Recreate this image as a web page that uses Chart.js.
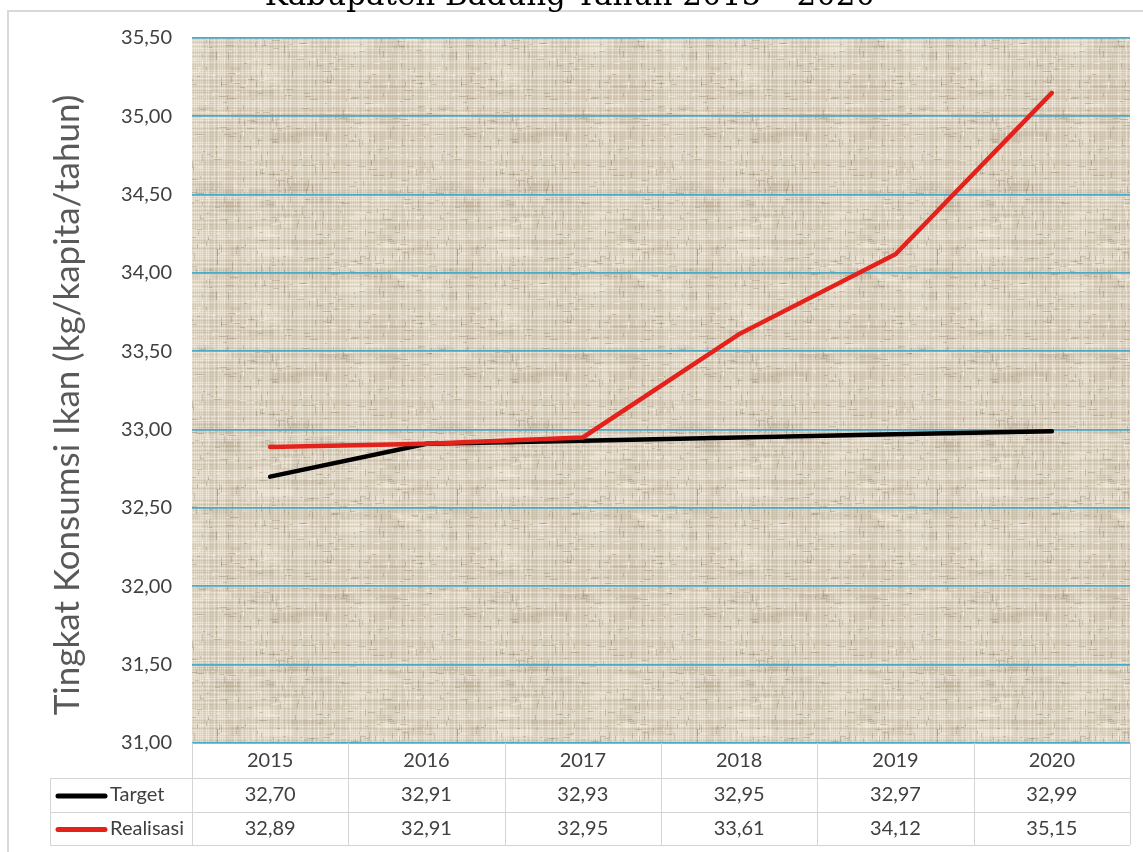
<!DOCTYPE html>
<html>
<head>
<meta charset="utf-8">
<script src="https://cdn.jsdelivr.net/npm/chart.js@4"></script>
<style>
  html, body { margin: 0; padding: 0; background: #ffffff; }
  #wrap { position: relative; width: 1143px; height: 852px; }
  canvas { display: block; }
</style>
</head>
<body>
<div id="wrap"><canvas id="c" width="1143" height="852"></canvas></div>
<script>
// Fish consumption level, Badung regency
const years = ['2015', '2016', '2017', '2018', '2019', '2020'];
const target = [32.70, 32.91, 32.93, 32.95, 32.97, 32.99];
const realisasi = [32.89, 32.91, 32.95, 33.61, 34.12, 35.15];
const seriesNames = ['Target', 'Realisasi'];
const yMin = 31.0;
const yMax = 35.5;
const yStep = 0.5;
const chartTitle = 'Kabupaten Badung Tahun 2015 – 2020';
const yTitle = 'Tingkat Konsumsi Ikan (kg/kapita/tahun)';

const FONT = 'Lato, "Open Sans", sans-serif';
const TEXT = '#404040';
const fmt = v => v.toFixed(2).replace('.', ',');

// Burlap-like tile for the plot background (deterministic hash, no data)
function hash(n) { const s = Math.sin(n * 12.9898 + 78.233) * 43758.5453; return s - Math.floor(s); }
function makeTexture() {
  const t = document.createElement('canvas');
  t.width = 240; t.height = 240;
  const g = t.getContext('2d');
  g.fillStyle = '#d9cebb';
  g.fillRect(0, 0, 240, 240);
  // soft blotches
  for (let i = 0; i < 60; i++) {
    const x = hash(i + 11000) * 240, y = hash(i + 12000) * 240;
    g.fillStyle = hash(i + 13000) > 0.5 ? 'rgba(245,238,224,0.35)' : 'rgba(160,145,118,0.18)';
    g.fillRect(x, y, 8 + hash(i + 14000) * 30, 3 + hash(i + 15000) * 8);
  }
  // vertical threads
  for (let x = 0; x < 240; x += 2) {
    const r = hash(x);
    g.fillStyle = r > 0.5 ? 'rgba(255,250,238,' + (0.15 + 0.25 * r) + ')' : 'rgba(150,135,110,' + (0.08 + 0.2 * r) + ')';
    g.fillRect(x, 0, 1, 240);
  }
  // horizontal threads
  for (let y = 0; y < 240; y += 2) {
    const r = hash(y + 500);
    g.fillStyle = r > 0.55 ? 'rgba(255,250,238,' + (0.12 + 0.25 * r) + ')' : 'rgba(140,125,100,' + (0.06 + 0.18 * r) + ')';
    g.fillRect(0, y, 240, 1);
  }
  // short weave dashes
  for (let i = 0; i < 900; i++) {
    const x = Math.floor(hash(i + 1000) * 240);
    const y = Math.floor(hash(i + 3000) * 240);
    const w = 2 + Math.floor(hash(i + 5000) * 7);
    const dark = hash(i + 7000) > 0.5;
    g.fillStyle = dark ? 'rgba(120,105,80,0.28)' : 'rgba(250,245,232,0.45)';
    if (hash(i + 9000) > 0.5) g.fillRect(x, y, w, 1); else g.fillRect(x, y, 1, w);
  }
  return t;
}

const backdrop = {
  id: 'backdrop',
  beforeDraw(chart) {
    const ctx = chart.ctx;
    const a = chart.chartArea;
    ctx.save();
    // outer frame
    ctx.fillStyle = '#ffffff';
    ctx.fillRect(0, 0, chart.width, chart.height);
    ctx.strokeStyle = '#d9d9d9';
    ctx.lineWidth = 2;
    ctx.beginPath();
    ctx.moveTo(8, chart.height);
    ctx.lineTo(8, 11);
    ctx.lineTo(chart.width, 11);
    ctx.stroke();
    // title (upper part runs off the top)
    ctx.fillStyle = '#000000';
    ctx.font = '31px "DejaVu Serif", "Liberation Serif", serif';
    ctx.textAlign = 'center';
    ctx.textBaseline = 'alphabetic';
    ctx.fillText(chartTitle, 570, 5);
    // textured plot area
    ctx.fillStyle = ctx.createPattern(makeTexture(), 'repeat');
    ctx.fillRect(a.left, a.top, a.right - a.left, a.bottom - a.top);
    // y axis title
    ctx.translate(68, 405);
    ctx.rotate(-Math.PI / 2);
    ctx.fillStyle = '#595959';
    ctx.font = '35px ' + FONT;
    ctx.textAlign = 'center';
    ctx.textBaseline = 'middle';
    ctx.fillText(yTitle, 0, 0);
    ctx.restore();
  }
};

// Data table under the plot, laid out on the category scale
const dataTable = {
  id: 'dataTable',
  afterDraw(chart) {
    const ctx = chart.ctx;
    const a = chart.chartArea;
    const xs = chart.scales.x;
    const half = (xs.getPixelForValue(1) - xs.getPixelForValue(0)) / 2;
    const r0 = a.bottom, r1 = a.bottom + 35, r2 = a.bottom + 69, r3 = a.bottom + 102;
    const leftCol = 50;
    ctx.save();
    ctx.strokeStyle = '#d4d4d4';
    ctx.lineWidth = 1;
    ctx.beginPath();
    [r1, r2, r3].forEach(y => { ctx.moveTo(leftCol, y + 0.5); ctx.lineTo(a.right, y + 0.5); });
    ctx.moveTo(leftCol + 0.5, r1); ctx.lineTo(leftCol + 0.5, r3);
    for (let i = 0; i <= years.length; i++) {
      const x = Math.round(xs.getPixelForValue(i) - half) + 0.5;
      ctx.moveTo(x, r0); ctx.lineTo(x, r3);
    }
    ctx.stroke();

    const rows = [
      { name: seriesNames[0], values: target, color: chart.data.datasets[0].borderColor, y: (r1 + r2) / 2 },
      { name: seriesNames[1], values: realisasi, color: chart.data.datasets[1].borderColor, y: (r2 + r3) / 2 }
    ];
    ctx.font = '20px ' + FONT;
    ctx.fillStyle = TEXT;
    ctx.textBaseline = 'middle';
    rows.forEach(row => {
      ctx.strokeStyle = row.color;
      ctx.lineWidth = 5;
      ctx.lineCap = 'round';
      ctx.beginPath();
      ctx.moveTo(58, row.y + 1);
      ctx.lineTo(105, row.y + 1);
      ctx.stroke();
      ctx.textAlign = 'left';
      ctx.fillText(row.name, 110, row.y);
      ctx.textAlign = 'center';
      row.values.forEach((v, i) => ctx.fillText(fmt(v), xs.getPixelForValue(i), row.y));
    });
    ctx.restore();
  }
};

new Chart(document.getElementById('c'), {
  type: 'line',
  data: {
    labels: years,
    datasets: [
      {
        label: seriesNames[0],
        data: target,
        borderColor: '#000000',
        borderWidth: 4.5,
        pointRadius: 0,
        tension: 0,
        borderCapStyle: 'round',
        order: 1
      },
      {
        label: seriesNames[1],
        data: realisasi,
        borderColor: '#e4221b',
        borderWidth: 4.5,
        pointRadius: 0,
        tension: 0,
        borderCapStyle: 'round',
        order: 0
      }
    ]
  },
  options: {
    responsive: false,
    animation: false,
    devicePixelRatio: 1,
    layout: { padding: { top: 38, right: 13, bottom: 0, left: 0 } },
    plugins: { legend: { display: false }, tooltip: { enabled: false }, title: { display: false } },
    scales: {
      x: {
        type: 'category',
        offset: true,
        grid: { display: false },
        border: { display: false },
        ticks: { color: TEXT, font: { family: FONT, size: 20 }, padding: -2, maxRotation: 0 },
        afterFit(s) { s.height = 109; }
      },
      y: {
        min: yMin,
        max: yMax,
        grid: { color: '#4aaac8', lineWidth: 1.8, drawTicks: false },
        border: { display: false },
        ticks: {
          stepSize: yStep,
          color: TEXT,
          font: { family: FONT, size: 20 },
          padding: 20,
          callback: v => fmt(v)
        },
        afterFit(s) { s.width = 192; }
      }
    }
  },
  plugins: [backdrop, dataTable]
});
</script>
</body>
</html>
